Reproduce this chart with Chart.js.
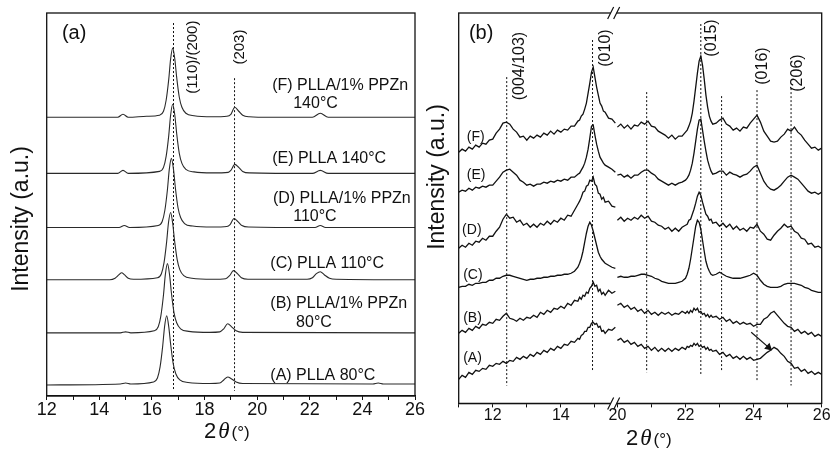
<!DOCTYPE html>
<html>
<head>
<meta charset="utf-8">
<script src="https://cdn.jsdelivr.net/npm/chart.js@4.4.1/dist/chart.umd.min.js"></script>
<style>
  html, body { margin: 0; padding: 0; background: #fff; }
  #wrap { position: relative; width: 834px; height: 455px; }
  #ca { position: absolute; left: 0; top: 0; }
  #cb { position: absolute; left: 425px; top: 0; }
</style>
</head>
<body>
<div id="wrap">
  <canvas id="ca" width="425" height="455"></canvas>
  <canvas id="cb" width="409" height="455"></canvas>
</div>
<script>
// ---- panel (a): XRD patterns, 2theta vs stacked intensity (a.u.)
const aA = [[12,11],[14.8,12],[15.0,13],[15.2,12],[16.06,14],[16.21,18],[16.31,29],[16.41,50],[16.48,69],[16.56,80],[16.64,69],[16.71,52],[16.81,32],[16.91,22],[17.06,16],[17.37,13.5],[18.2,12.5],[18.58,13],[18.73,16],[18.88,19],[19.03,17],[19.2,14],[19.45,12.5],[24.4,12],[24.6,13],[24.8,12],[26,12]];
const aB = [[12,63],[14.8,63],[15.0,64],[15.2,63],[16.09,65],[16.24,69],[16.34,80],[16.44,101],[16.51,121],[16.59,132],[16.67,121],[16.74,103],[16.84,83],[16.94,73],[17.09,67],[17.4,64.5],[18.2,63.5],[18.58,64],[18.73,67],[18.88,72],[19.03,69],[19.2,65],[19.45,63.5],[26,63]];
const aC = [[12,116],[14.4,116],[14.6,117.5],[14.75,121],[14.85,123],[14.95,121],[15.1,117.5],[15.3,116.5],[16.21,118],[16.36,122],[16.46,133],[16.56,154],[16.63,173],[16.71,183],[16.79,172],[16.86,155],[16.96,136],[17.06,126],[17.21,120],[17.52,117.5],[18.3,116.5],[18.8,117],[18.95,120],[19.1,125],[19.25,122],[19.4,118],[19.65,116.5],[21.9,116.5],[22.1,118],[22.25,122],[22.4,124],[22.55,121],[22.75,117.5],[23.0,116.5],[26,116]];
const aD = [[12,168],[14.75,168],[14.95,170],[15.15,168],[16.24,170],[16.39,174],[16.49,185],[16.59,206],[16.66,226],[16.74,237],[16.82,226],[16.89,208],[16.99,188],[17.09,178],[17.24,172],[17.55,169.5],[18.3,168.5],[18.85,169],[18.97,171],[19.12,177],[19.27,174],[19.42,170],[19.67,168.5],[22.2,168],[22.4,170],[22.6,168],[26,168]];
const aE = [[12,222],[14.7,222],[14.9,225],[15.1,222],[16.29,224],[16.44,228],[16.54,239],[16.64,260],[16.71,280],[16.79,291],[16.87,280],[16.94,262],[17.04,242],[17.14,232],[17.29,226],[17.6,223.5],[18.3,222.5],[18.9,223],[19.0,225],[19.15,231],[19.3,228],[19.45,224],[19.7,222.5],[22.1,222],[22.4,225],[22.7,222],[26,222]];
const aF = [[12,278],[14.7,278],[14.9,281],[15.1,278],[15.8,279],[16.29,280],[16.44,284],[16.54,295],[16.64,316],[16.71,336],[16.79,347],[16.87,336],[16.94,318],[17.04,298],[17.14,288],[17.29,282],[17.6,279.5],[18.3,278.5],[18.85,279],[19.0,281],[19.15,288],[19.3,284],[19.45,280],[19.7,278.5],[20.5,278],[22.1,278],[22.4,282],[22.7,278],[26,278]];
const aGuides = [[16.82, 372, 5], [19.14, 317, 5]];
const aLabels = [
  ['(F) PLLA/1% PPZn', 20.57, 310], ['140°C', 21.37, 292],
  ['(E) PLLA 140°C', 20.57, 237],
  ['(D) PLLA/1% PPZn', 20.6, 197], ['110°C', 21.37, 179],
  ['(C) PLLA 110°C', 20.5, 132],
  ['(B) PLLA/1% PPZn', 20.5, 92], ['80°C', 21.48, 73],
  ['(A) PLLA 80°C', 20.5, 20]
];
const aPeakLabels = [['(110)/(200)', 17.57, 338], ['(203)', 19.35, 348]];

// ---- panel (b): broken 2theta axis (11-15.6 | 20-26), noisy scans
const bXL = [11.0,11.1,11.2,11.3,11.4,11.5,11.6,11.7,11.8,11.9,12.0,12.1,12.2,12.3,12.4,12.5,12.6,12.7,12.8,12.9,13.0,13.1,13.2,13.3,13.4,13.5,13.6,13.7,13.8,13.9,14.0,14.1,14.2,14.3,14.4,14.5,
  14.55,14.6,14.65,14.7,14.75,14.8,14.85,14.9,14.95,15.0,15.05,15.1,15.15,15.2,15.25,15.3,15.4,15.5,15.6];
const bXR = [20.0,20.1,20.2,20.3,20.4,20.5,20.6,20.7,20.8,20.9,21.0,21.1,21.2,21.3,21.4,21.5,21.6,21.7,21.8,21.9,22.0,
  22.05,22.1,22.15,22.2,22.25,22.3,22.35,22.4,22.45,22.5,22.55,22.6,22.65,22.7,22.75,22.8,
  22.9,23.0,23.1,23.2,23.3,23.4,23.5,23.6,23.7,23.8,23.9,24.0,24.1,24.2,24.3,24.4,24.5,24.6,24.7,24.8,24.9,25.0,25.1,25.2,25.3,25.4,25.5,25.6,25.7,25.8,25.9,26.0];

const bFL = [251,254,252,256,254,258,256,260,259,263,264,270,274,280,281,279,274,271,266,267,263,267,265,268,266,270,268,272,269,273,271,274,273,277,277,282,
  283,287,289,294,300,310,320,331,336,326,316,308,300,297,292,291,285,284,280];
const bFR = [276,279,275,278,274,278,277,281,279,282,277,276,272,270,268,265,268,264,267,267,271,
  273,277,282,290,302,316,330,342,347,338,324,308,296,287,282,279,
  280,283,285,279,277,273,275,272,276,275,280,284,288,281,272,267,262,261,262,266,269,274,272,276,271,268,263,259,255,256,253,255];
const bEL = [211,213,212,215,213,216,215,217,216,218,218,222,226,231,233,234,231,228,223,221,218,219,217,219,219,221,220,222,221,223,222,224,223,226,226,229,
  230,233,236,240,246,254,265,277,278,268,259,252,246,243,240,238,236,234,231];
const bER = [228,229,226,228,225,228,228,231,233,233,230,228,224,222,220,218,220,218,220,221,223,
  225,228,233,240,250,262,274,283,284,273,262,252,243,237,232,229,
  230,232,232,228,231,229,228,226,228,229,232,236,238,230,222,217,214,213,215,218,222,226,228,226,224,220,216,212,210,211,209,211];
const bDL = [155,158,156,160,158,162,161,165,163,167,167,172,176,184,189,185,186,181,183,178,180,176,179,176,180,178,182,179,183,181,185,183,188,187,193,199,
  202,206,211,212,217,218,223,222,226,219,217,210,209,204,206,201,202,197,196];
const bDR = [183,186,182,185,183,186,184,188,185,187,182,181,178,177,174,176,172,175,172,176,178,
  179,183,184,189,194,200,207,211,208,201,195,189,187,183,184,180,
  181,177,180,176,179,174,177,173,175,172,176,175,179,172,169,164,163,168,172,175,179,176,177,172,170,165,164,159,160,156,157,155];
const bCL = [116,117,117,119,118,120,120,121,121,123,123,125,125,127,128,128,127,126,125,124,123,124,124,125,125,126,126,127,127,128,128,129,129,130,132,136,
  140,145,152,161,170,177,181,178,172,165,158,151,147,144,142,140,138,136,135];
const bCR = [126,127,126,126,127,127,128,129,129,128,127,125,124,122,121,120,120,120,121,122,125,
  129,135,144,155,166,177,183,181,174,163,152,142,136,132,129,128,
  129,131,129,127,126,125,125,125,126,127,128,130,128,123,119,117,116,116,116,117,119,120,120,120,119,118,116,115,113,112,111,111];
const bBL = [70,73,71,75,73,77,75,79,78,81,80,84,83,87,90,85,84,82,85,83,86,85,88,86,91,89,93,91,95,94,97,95,100,98,103,102,
  106,104,108,107,111,110,115,117,121,117,118,112,114,109,111,108,113,110,112];
const bBR = [98,100,96,98,94,96,92,94,90,93,89,91,88,91,89,91,88,90,89,92,90,
  92,90,93,91,95,93,95,91,92,89,90,87,89,86,88,86,
  87,84,86,82,84,80,82,79,81,79,80,77,79,79,84,86,90,92,88,84,80,77,76,72,74,70,72,69,71,67,69,67];
const bAL = [24,28,26,31,29,33,32,35,34,38,37,40,39,42,40,43,42,46,44,47,45,49,47,51,49,53,51,55,53,57,55,59,58,62,61,65,
  64,68,69,72,72,76,76,80,81,79,80,76,77,72,73,70,74,73,76];
const bAR = [63,65,61,63,59,61,57,59,55,57,53,56,52,55,52,55,52,55,53,56,54,
  57,56,58,57,60,58,60,57,58,56,57,54,56,53,54,52,
  53,49,51,47,49,45,47,44,47,44,46,43,44,45,48,51,53,56,54,50,47,42,40,35,36,32,34,30,32,29,31,29];

const bGuides = [[12.41, 326, 18], [14.93, 363, 33], [20.86, 311, 31], [22.45, 379, 28], [23.06, 307, 33], [24.10, 313, 23], [25.10, 315, 18]];
const bArrow = [[23.93, 71], [24.44, 56]];
const bTickVals = [11, 12, 13, 14, 15, 20, 21, 22, 23, 24, 25, 26];
const bTickLabels = ['', '12', '', '14', '', '20', '', '22', '', '24', '', '26'];
const bLabels = [['(F)', 11.24, 266], ['(E)', 11.24, 228], ['(D)', 11.1, 173], ['(C)', 11.13, 128], ['(B)', 11.13, 85], ['(A)', 11.13, 45]];
const bPeakLabels = [['(004/103)', 12.80, 337], ['(010)', 15.30, 355], ['(015)', 22.78, 365], ['(016)', 24.25, 337], ['(206)', 25.28, 330]];

// the right half of axis (b) is shifted left so 20 sits just after 15.66
const GAP = 4.34;
const bx = v => v >= 18 ? v - GAP : v;
const ident = v => v;

const SANS = '"Liberation Sans", Arial, sans-serif';
Chart.defaults.font.family = SANS;
Chart.defaults.color = '#111';

function curve(points, map, width, color) {
  return {
    data: points.map(p => ({x: map(p[0]), y: p[1]})),
    borderColor: color, borderWidth: width, pointRadius: 0, fill: false,
    cubicInterpolationMode: 'monotone'
  };
}
function scan(xl, yl, xr, yr) {
  const pts = xl.map((x, i) => ({x: x, y: yl[i]}));
  pts.push({x: 15.63, y: null});
  xr.forEach((x, i) => pts.push({x: bx(x), y: yr[i]}));
  return {
    data: pts, borderColor: '#111', borderWidth: 1.3, pointRadius: 0, fill: false,
    tension: 0, spanGaps: false
  };
}
function guide(g, map) {
  return {
    data: [{x: map(g[0]), y: g[1]}, {x: map(g[0]), y: g[2]}],
    borderColor: '#111', borderWidth: 1, borderDash: [2, 2], pointRadius: 0, fill: false
  };
}

const framePlugin = {
  id: 'frame',
  afterDatasetsDraw(chart, args, opts) {
    const {ctx, chartArea: a} = chart;
    ctx.save();
    ctx.strokeStyle = '#111';
    ctx.lineWidth = 1.3;
    ctx.strokeRect(a.left, a.top, a.right - a.left, a.bottom - a.top);
    if (opts.breakAt != null) {
      const p = chart.scales.x.getPixelForValue(opts.breakAt);
      for (const yy of [a.top, a.bottom]) {
        ctx.fillStyle = '#fff';
        ctx.fillRect(p - 3, yy - 2, 6, 4);
        ctx.lineWidth = 1.2;
        ctx.beginPath();
        for (const dx of [-3, 3]) {
          ctx.moveTo(p + dx - 3, yy + 6);
          ctx.lineTo(p + dx + 3, yy - 6);
        }
        ctx.stroke();
      }
    }
    ctx.restore();
  }
};

const textPlugin = {
  id: 'texts',
  afterDraw(chart, args, o) {
    const {ctx, scales: {x, y}} = chart;
    ctx.save();
    ctx.fillStyle = '#111';
    ctx.textBaseline = 'middle';
    const put = (t, px, py, size, rot, align) => {
      ctx.save();
      ctx.font = size + 'px ' + SANS;
      ctx.translate(px, py);
      if (rot) ctx.rotate(-Math.PI / 2);
      ctx.textAlign = align;
      ctx.fillText(t, 0, 0);
      ctx.restore();
    };
    for (const l of o.labels) put(l[0], x.getPixelForValue(o.map(l[1])), y.getPixelForValue(l[2]), o.labelSize, false, 'left');
    for (const l of o.peaks) put(l[0], x.getPixelForValue(o.map(l[1])), y.getPixelForValue(l[2]), o.peakSize, true, 'center');
    put(o.panel[0], x.getPixelForValue(o.panel[1]), y.getPixelForValue(o.panel[2]), 20, false, 'left');
    // y title
    put('Intensity (a.u.)', o.yTitle[0], o.yTitle[1], 23, true, 'center');
    // x title: 2θ(°) in mixed styles
    ctx.textAlign = 'left';
    ctx.textBaseline = 'alphabetic';
    let cx = o.xTitle[0];
    const by = o.xTitle[1];
    const runs = [['2', o.xTitle[2] + 'px ' + SANS, 2], ['θ', 'italic ' + (o.xTitle[2] + 1) + 'px "Liberation Serif", "Times New Roman", serif', 2], ['(°)', o.xTitle[3] + 'px ' + SANS, 0]];
    for (const r of runs) {
      ctx.font = r[1];
      ctx.fillText(r[0], cx, by);
      cx += ctx.measureText(r[0]).width + r[2];
    }
    ctx.restore();
  }
};

// ---- chart (a)
new Chart(document.getElementById('ca'), {
  type: 'line',
  data: {
    datasets: [aA, aB, aC, aD, aE, aF].map(s => curve(s, ident, 1.1, '#2a2a2a'))
      .concat(aGuides.map(g => guide(g, ident)))
  },
  options: {
    responsive: false, animation: false,
    layout: {padding: {left: 46.7, right: 10, top: 13, bottom: 35.4}},
    plugins: {
      legend: {display: false}, tooltip: {enabled: false},
      frame: {},
      texts: {map: ident, labels: aLabels, labelSize: 16, peaks: aPeakLabels, peakSize: 15,
              panel: ['(a)', 12.58, 362], yTitle: [22, 219], xTitle: [204, 438, 22, 17]}
    },
    scales: {
      x: {
        type: 'linear', min: 12, max: 26,
        ticks: {stepSize: 1, autoSkip: false, maxRotation: 0, padding: -1, color: '#111',
                font: {size: 18}, callback: v => v % 2 === 0 ? String(v) : ''},
        grid: {drawOnChartArea: false, tickLength: 4, color: '#111'},
        border: {color: '#111', width: 1.2}
      },
      y: {display: false, min: 0, max: 382}
    }
  },
  plugins: [framePlugin, textPlugin]
});

// ---- chart (b)
const bDatasets = [
  scan(bXL, bAL, bXR, bAR), scan(bXL, bBL, bXR, bBR), scan(bXL, bCL, bXR, bCR),
  scan(bXL, bDL, bXR, bDR), scan(bXL, bEL, bXR, bER), scan(bXL, bFL, bXR, bFR)
].concat(bGuides.map(g => guide(g, bx)));
bDatasets.push({
  data: bArrow.map(p => ({x: bx(p[0]), y: p[1]})),
  borderColor: '#111', borderWidth: 1.2, fill: false,
  pointRadius: [0, 3.5], pointStyle: 'triangle', pointRotation: [0, 131],
  pointBackgroundColor: '#111', pointBorderColor: '#111'
});

new Chart(document.getElementById('cb'), {
  type: 'line',
  data: {datasets: bDatasets},
  options: {
    responsive: false, animation: false,
    layout: {padding: {left: 33.7, right: 12.3, top: 13, bottom: 31}},
    plugins: {
      legend: {display: false}, tooltip: {enabled: false},
      frame: {breakAt: 15.55},
      texts: {map: bx, labels: bLabels, labelSize: 14, peaks: bPeakLabels, peakSize: 16,
              panel: ['(b)', 11.30, 370], yTitle: [13, 177], xTitle: [201, 445, 22, 17]}
    },
    scales: {
      x: {
        type: 'linear', min: 11, max: bx(26),
        afterBuildTicks: s => { s.ticks = bTickVals.map(v => ({value: bx(v)})); },
        ticks: {autoSkip: false, maxRotation: 0, padding: -1.3, color: '#111',
                font: {size: 16}, callback: (v, i) => bTickLabels[i]},
        grid: {drawOnChartArea: false, tickLength: 4, color: '#111'},
        border: {color: '#111', width: 1.2}
      },
      y: {display: false, min: 0, max: 390}
    }
  },
  plugins: [framePlugin, textPlugin]
});
</script>
</body>
</html>
